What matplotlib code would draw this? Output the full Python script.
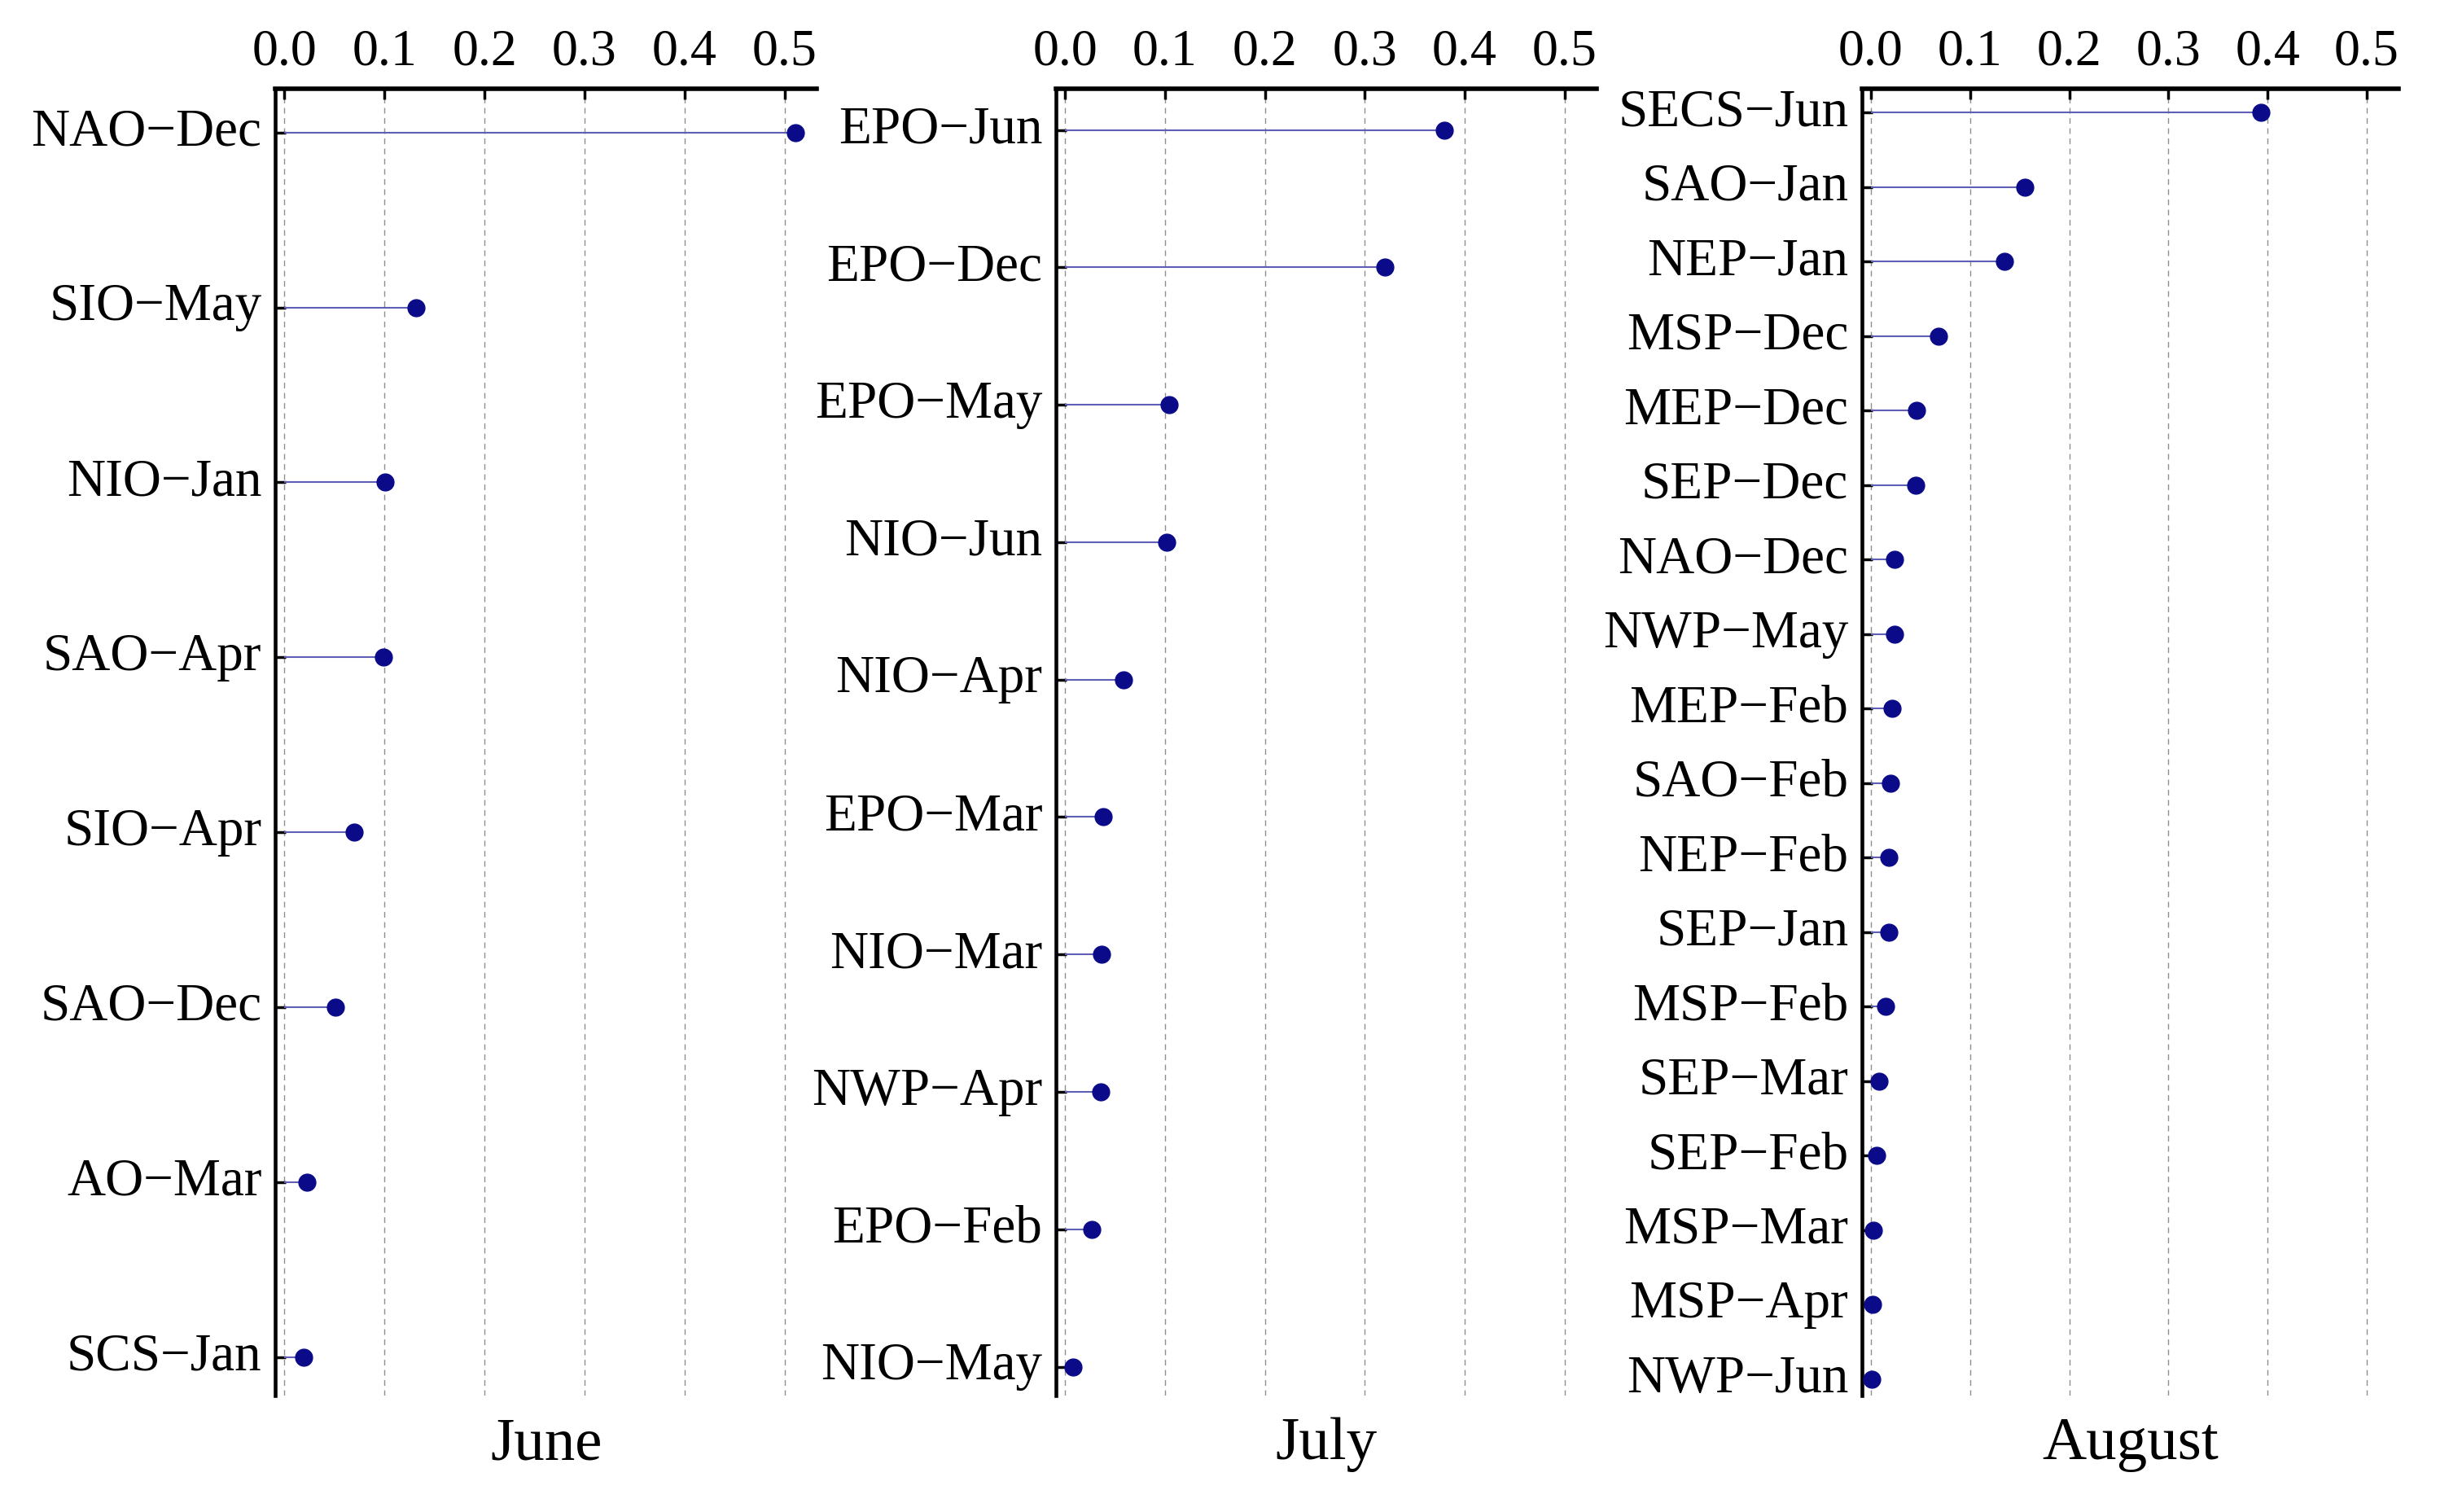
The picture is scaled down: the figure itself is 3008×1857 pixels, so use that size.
import matplotlib
matplotlib.use("Agg")
import matplotlib.pyplot as plt

# ---- data ----
june_labels = ["NAO\u2212Dec", "SIO\u2212May", "NIO\u2212Jan", "SAO\u2212Apr",
               "SIO\u2212Apr", "SAO\u2212Dec", "AO\u2212Mar", "SCS\u2212Jan"]
june_values = [0.511, 0.132, 0.101, 0.099, 0.070, 0.051, 0.023, 0.019]

july_labels = ["EPO\u2212Jun", "EPO\u2212Dec", "EPO\u2212May", "NIO\u2212Jun",
               "NIO\u2212Apr", "EPO\u2212Mar", "NIO\u2212Mar", "NWP\u2212Apr",
               "EPO\u2212Feb", "NIO\u2212May"]
july_values = [0.380, 0.320, 0.104, 0.102, 0.059, 0.038, 0.037, 0.036, 0.027, 0.008]

august_labels = ["SECS\u2212Jun", "SAO\u2212Jan", "NEP\u2212Jan", "MSP\u2212Dec",
                 "MEP\u2212Dec", "SEP\u2212Dec", "NAO\u2212Dec", "NWP\u2212May",
                 "MEP\u2212Feb", "SAO\u2212Feb", "NEP\u2212Feb", "SEP\u2212Jan",
                 "MSP\u2212Feb", "SEP\u2212Mar", "SEP\u2212Feb", "MSP\u2212Mar",
                 "MSP\u2212Apr", "NWP\u2212Jun"]
august_values = [0.393, 0.155, 0.135, 0.068, 0.046, 0.045, 0.024, 0.024,
                 0.021, 0.0195, 0.018, 0.018, 0.015, 0.008, 0.0055, 0.0023,
                 0.002, 0.001]

month_names = ["June", "July", "August"]
x_ticks = [0.0, 0.1, 0.2, 0.3, 0.4, 0.5]
x_tick_labels = ["0.0", "0.1", "0.2", "0.3", "0.4", "0.5"]

# ---- style ----
plt.rcParams["font.family"] = ["Liberation Serif", "DejaVu Serif"]
dot_color = "#0b0b8a"
stem_color = "#5e5eb6"
grid_color = "#8f8f8f"

fig = plt.figure(figsize=(30.08, 18.57), dpi=100)

panels = [
    (june_labels, june_values, 0.1124, 0.2211, (7.22, -0.25)),
    (july_labels, july_values, 0.4312, 0.2207, (9.21, -0.30)),
    (august_labels, august_values, 0.7603, 0.2191, (17.22, -0.32)),
]

for (labels, values, left, width, ylim), month in zip(panels, month_names):
    ax = fig.add_axes([left, 0.0770, width, 0.8643])
    ypos = list(range(len(labels)))
    ax.hlines(ypos, 0, values, color=stem_color, lw=1.5, zorder=2)
    ax.plot(values, ypos, "o", ms=15, color=dot_color, zorder=3)
    ax.set_xlim(-0.009, 0.532)
    ax.set_ylim(*ylim)
    ax.set_xticks(x_ticks)
    ax.set_xticklabels(x_tick_labels)
    ax.set_yticks(ypos)
    ax.set_yticklabels(labels, va="center")
    ax.xaxis.tick_top()
    ax.tick_params(axis="x", direction="in", length=9.5, width=2.5,
                   labelsize=46, pad=11)
    ax.tick_params(axis="y", direction="in", length=9, width=2.5,
                   labelsize=47, pad=12)
    for s in ["right", "bottom"]:
        ax.spines[s].set_visible(False)
    ax.spines["top"].set_linewidth(4.0)
    ax.spines["left"].set_linewidth(3.3)
    ax.grid(axis="x", linestyle=(0, (5, 4)), color=grid_color, lw=1.0)
    ax.set_axisbelow(True)
    fig.text(left + width / 2, 0.035, month, ha="center", va="baseline",
             fontsize=54)

fig.savefig("out.png", dpi=100, facecolor="white")
